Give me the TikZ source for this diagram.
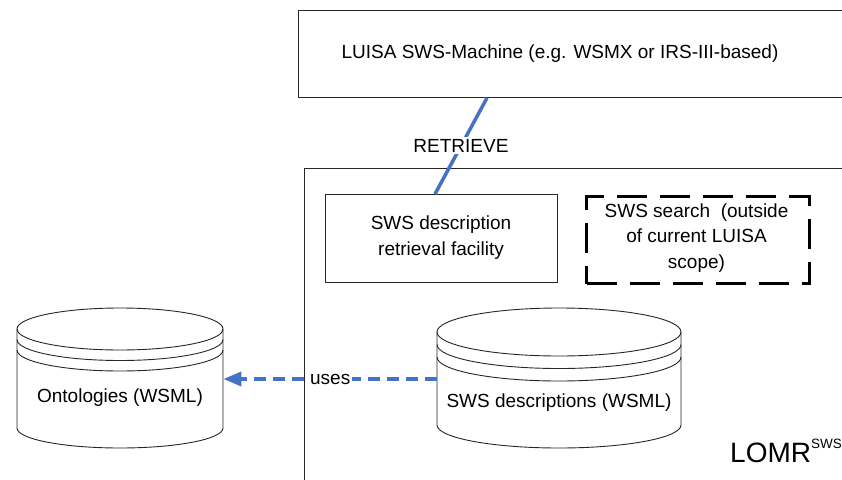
\documentclass[tikz,border=0pt]{standalone}
\usepackage{fontspec}
\setmainfont{Liberation Sans}
\usetikzlibrary{arrows.meta}

\definecolor{linkblue}{HTML}{4472C4}

% Draw a stacked-disk storage cylinder:
% #1 left x, #2 right x, #3 top ellipse centre y, #4 top radius y,
% #5 ring spacing, #6 bottom side end y, #7 bottom radius y
\newcommand\storecyl[7]{%
  \pgfmathsetmacro\cylrx{(#2-#1)/2}%
  \draw[cylline] (#1,#3) arc[start angle=180, end angle=-180, x radius=\cylrx pt, y radius=#4pt];
  \draw[cylline] (#1,#3+#5) arc[start angle=180, end angle=360, x radius=\cylrx pt, y radius=#4pt];
  \draw[cylline] (#1,#3+2*#5) arc[start angle=180, end angle=360, x radius=\cylrx pt, y radius=#4pt];
  \draw[cylline] (#1,#3) -- (#1,#6) arc[start angle=180, end angle=360, x radius=\cylrx pt, y radius=#7pt] -- (#2,#3);
}

\tikzset{
  plainbox/.style={draw=black!85, line width=0.9pt, inner sep=0pt},
  cylline/.style={draw=black!85, line width=0.9pt},
  cylarea/.style={draw=none, inner sep=0pt, anchor=north west},
  txt/.style={font=\fontsize{19}{25.5}\selectfont, align=center, inner sep=1pt},
  scopebox/.style={draw=black, line width=3.2pt, dash pattern=on 30pt off 13pt, inner sep=0pt},
  retrlink/.style={draw=linkblue, line width=3.5pt},
  uselink/.style={draw=linkblue, line width=3.5pt, dash pattern=on 12pt off 7pt,
    -{Triangle[length=18pt, width=14pt]}},
  lbl/.style={txt, fill=white, inner sep=2pt},
}

\begin{document}
\begin{tikzpicture}[x=1pt, y=-1pt]
  \useasboundingbox (0,0) rectangle (842,479);
  \clip (0,0) rectangle (842,479);

  % SWS machine (runs off the right edge)
  \node[plainbox, anchor=north west, minimum width=560pt, minimum height=87pt] (machine) at (298,10) {};
  \node[txt] (machinelbl) at (560,54) {LUISA SWS-Machine (e.g. WSMX or IRS-III-based)};

  % LOMR registry frame (runs off the right and bottom edges)
  \node[plainbox, anchor=north west, minimum width=560pt, minimum height=330pt] (lomr) at (304,168) {};
  \node[anchor=base west, inner sep=0pt, font=\fontsize{28}{30}\selectfont] (lomrlbl) at (730,462)
    {LOMR\raisebox{14pt}{\fontsize{13.5}{14}\selectfont SWS}};

  % retrieval facility
  \node[plainbox, anchor=north west, minimum width=232pt, minimum height=88pt] (retr) at (325,194) {};
  \node[txt] (retrlbl) at (441,237.5) {SWS description\\retrieval facility};

  % search component, out of scope
  \node[scopebox, anchor=north west, minimum width=223pt, minimum height=87pt] (search) at (585,195) {};
  \node[txt] (searchlbl) at (696.5,238) {SWS search\ \ (outside\\of current LUISA\\scope)};

  % storage cylinders
  \storecyl{17}{223}{329}{21}{10.5}{428}{20}
  \node[cylarea, minimum width=206pt, minimum height=119pt] (onto) at (17,329) {};
  \node[txt] (ontolbl) at (120,398) {Ontologies (WSML)};

  \storecyl{437}{681}{332}{24}{12.5}{425}{23}
  \node[cylarea, minimum width=244pt, minimum height=116pt] (swsdb) at (437,332) {};
  \node[txt] (swsdblbl) at (559,403) {SWS descriptions (WSML)};

  % connectors
  \coordinate (rtop) at (487,0);
  \coordinate (rbot) at (435,0);
  \draw[retrlink] (machine.south -| rtop) -- node[lbl] {RETRIEVE} (retr.north -| rbot);

  \coordinate (uselevel) at (0,379);
  \draw[uselink] (swsdb.west |- uselevel) -- node[lbl, pos=0.5] {uses} (onto.east |- uselevel);
\end{tikzpicture}
\end{document}
